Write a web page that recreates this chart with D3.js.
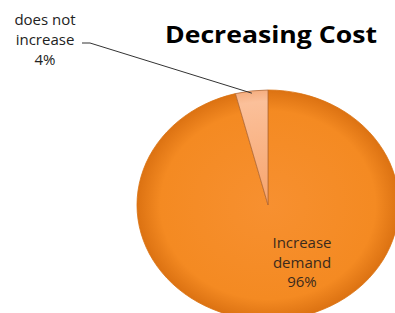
<!DOCTYPE html>
<html>
<head>
<meta charset="utf-8">
<script src="https://cdn.jsdelivr.net/npm/d3@7"></script>
<style>
  body { margin: 0; background: #fff; }
  svg text { font-family: "Open Sans", "Liberation Sans", sans-serif; }
</style>
</head>
<body>
<div id="chart"></div>
<script>
// chart data
var labels = ["Increase demand", "does not increase"];
var values = [96, 4];
var colors = ["#F68C24", "#F9B68A"];

var width = 395, height = 313;
var cx = 268, cy = 205, rx = 131, ry = 115;

var svg = d3.select("#chart").append("svg")
  .attr("width", width)
  .attr("height", height);

var defs = svg.append("defs");
var grad = defs.append("radialGradient")
  .attr("id", "mainGrad")
  .attr("gradientUnits", "userSpaceOnUse")
  .attr("cx", 0).attr("cy", 0).attr("r", ry);
grad.append("stop").attr("offset", "0%").attr("stop-color", "#F79030");
grad.append("stop").attr("offset", "82%").attr("stop-color", "#F48A22");
grad.append("stop").attr("offset", "100%").attr("stop-color", "#DC7212");

var grad2 = defs.append("radialGradient")
  .attr("id", "sliceGrad")
  .attr("gradientUnits", "userSpaceOnUse")
  .attr("cx", 0).attr("cy", 0).attr("r", ry);
grad2.append("stop").attr("offset", "0%").attr("stop-color", "#F7A46C");
grad2.append("stop").attr("offset", "90%").attr("stop-color", "#FBC09A");
grad2.append("stop").attr("offset", "100%").attr("stop-color", "#F5AE80");

// pie goes clockwise from 12 o'clock; small slice ends at top
var pie = d3.pie().sort(null).value(function (d) { return d; });
var arcs = pie(values);

var arc = d3.arc().innerRadius(0).outerRadius(ry);

var g = svg.append("g")
  .attr("transform", "translate(" + cx + "," + cy + ") scale(" + (rx / ry) + ",1)");

g.selectAll("path.slice")
  .data(arcs)
  .enter().append("path")
  .attr("class", "slice")
  .attr("d", arc)
  .attr("fill", function (d, i) { return i === 0 ? "url(#mainGrad)" : "url(#sliceGrad)"; })
  .attr("stroke", function (d, i) { return i === 0 ? "#D9710F" : "#B06A3A"; })
  .attr("stroke-width", 0.8)
  .attr("vector-effect", "non-scaling-stroke");

// title
svg.append("text")
  .attr("x", 271)
  .attr("y", 43)
  .attr("text-anchor", "middle")
  .attr("font-size", 23)
  .attr("font-weight", "bold")
  .attr("fill", "#000")
  .attr("textLength", 212)
  .attr("lengthAdjust", "spacingAndGlyphs")
  .text("Decreasing Cost");

// label for the small slice, with leader line
var small = arcs[1];
var midA = (small.startAngle + small.endAngle) / 2;
var tipX = cx + rx * Math.sin(midA) * 0.98;
var tipY = cy - ry * Math.cos(midA) * 0.98;

svg.append("path")
  .attr("d", "M82,43 L90,43 L" + tipX + "," + tipY)
  .attr("fill", "none")
  .attr("stroke", "#333")
  .attr("stroke-width", 1);

var smallLines = ["does not", "increase", values[1] + "%"];
svg.append("text")
  .attr("text-anchor", "middle")
  .attr("font-size", 15)
  .attr("fill", "#222")
  .selectAll("tspan")
  .data(smallLines)
  .enter().append("tspan")
  .attr("x", 45)
  .attr("y", function (d, i) { return 25 + i * 20; })
  .text(function (d) { return d; });

// label inside the big slice
var bigLines = ["Increase", "demand", values[0] + "%"];
svg.append("text")
  .attr("text-anchor", "middle")
  .attr("font-size", 15)
  .attr("fill", "#3B2A1C")
  .selectAll("tspan")
  .data(bigLines)
  .enter().append("tspan")
  .attr("x", 302)
  .attr("y", function (d, i) { return 248 + i * 19.5; })
  .text(function (d) { return d; });
</script>
</body>
</html>
